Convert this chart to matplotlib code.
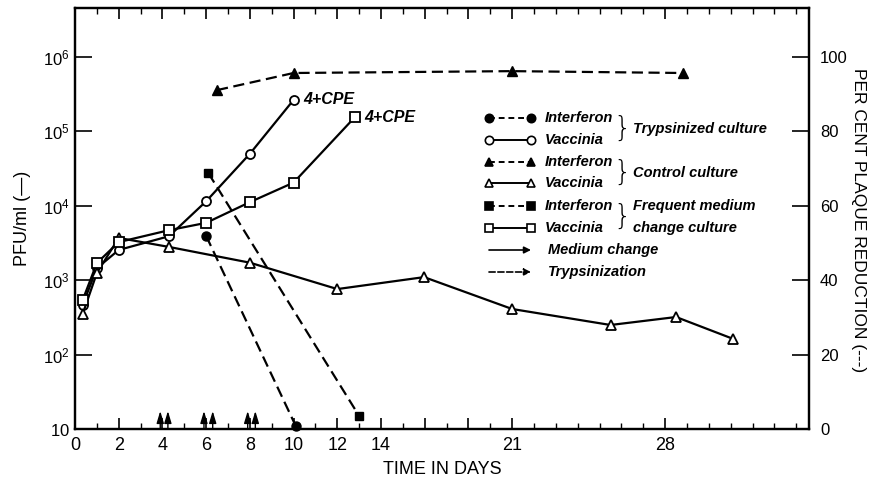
import numpy as np
import matplotlib
matplotlib.use('Agg')
import matplotlib.pyplot as plt
from matplotlib.ticker import FixedLocator, NullLocator, FixedFormatter

# ---------------- data ----------------
tryp_vac_days = [0.35, 1.0, 2.0, 4.3, 6.0, 8.0, 10.0]
tryp_vac_pfu = [465, 1450, 2550, 3900, 11500, 50000, 265000]

ctrl_vac_days = [0.35, 1.0, 2.0, 4.3, 8.0, 12.0, 16.3, 21.0, 25.5, 28.5, 31.1]
ctrl_vac_pfu = [350, 1250, 3700, 2800, 1720, 760, 1100, 410, 250, 320, 163]

freq_vac_days = [0.35, 1.0, 2.0, 4.3, 6.0, 8.0, 10.0, 12.8]
freq_vac_pfu = [540, 1700, 3250, 4700, 5900, 11200, 20500, 155000]

tryp_ifn_days = [6.0, 10.1]
tryp_ifn_pct = [51.9, 0.8]

ctrl_ifn_days = [6.5, 10.0, 21.0, 28.8]
ctrl_ifn_pct = [91.1, 95.7, 96.2, 95.7]

freq_ifn_days = [6.1, 13.0]
freq_ifn_pct = [68.8, 3.5]

medium_change_days = [3.9, 5.9, 7.9]
trypsinization_days = [4.25, 6.3, 8.25]

x_tick_days = [0, 2, 4, 6, 8, 10, 12, 14, 21, 28]
x_tick_labels = ['0', '2', '4', '6', '8', '10', '12', '14', '21', '28']
y_left_ticks = [10, 1e2, 1e3, 1e4, 1e5, 1e6]
y_left_labels = [r'$\mathregular{10}$', r'$\mathregular{10^{2}}$', r'$\mathregular{10^{3}}$',
                 r'$\mathregular{10^{4}}$', r'$\mathregular{10^{5}}$', r'$\mathregular{10^{6}}$']
y_right_ticks = [0, 20, 40, 60, 80, 100]

# ---------------- style ----------------
plt.rcParams['font.family'] = ['Liberation Sans Narrow', 'Liberation Sans', 'DejaVu Sans']
plt.rcParams['mathtext.fontset'] = 'custom'
plt.rcParams['mathtext.rm'] = 'Liberation Sans'

# piecewise time axis of the original figure (after day 14 the spacing changes)
KD = np.array([0., 14., 21., 28.])
KP = np.array([0., 14., 20., 27.])


def fwd(d):
    d = np.asarray(d, dtype=float)
    p = np.interp(d, KD, KP)
    p = np.where(d > 28, 27 + (d - 28), p)
    p = np.where(d < 0, d, p)
    return p


def inv(p):
    p = np.asarray(p, dtype=float)
    d = np.interp(p, KP, KD)
    d = np.where(p > 27, 28 + (p - 27), d)
    d = np.where(p < 0, p, d)
    return d


W, H = 870, 491
fig = plt.figure(figsize=(W / 100, H / 100), dpi=100)
L, R, T, B = 75, 809, 8, 429
ax = fig.add_axes([L / W, 1 - B / H, (R - L) / W, (B - T) / H])
ax2 = ax.twinx()

ax.set_xscale('function', functions=(fwd, inv))
ax.set_yscale('log')
ax.set_xlim(0, float(inv(33.58)))
ax.set_ylim(10, 10 ** (1 + (B - T) / 74.4))
ax2.set_ylim(0, (B - T) / 3.72)

lw = 1.6
ms = 6.5
dash = (5, 2.5)

# vaccinia (left axis, solid)
ax.plot(tryp_vac_days, tryp_vac_pfu, '-', color='k', lw=lw, marker='o', ms=ms,
        mfc='white', mec='k', mew=1.3, zorder=3)
ax.plot(ctrl_vac_days, ctrl_vac_pfu, '-', color='k', lw=lw, marker='^', ms=ms + 0.5,
        mfc='white', mec='k', mew=1.3, zorder=3)
ax.plot(freq_vac_days, freq_vac_pfu, '-', color='k', lw=lw, marker='s', ms=ms,
        mfc='white', mec='k', mew=1.3, zorder=3)

# interferon (right axis, dashed)
ax2.plot(tryp_ifn_days, tryp_ifn_pct, color='k', lw=lw, dashes=dash, marker='o', ms=ms,
         mfc='k', mec='k', clip_on=False)
ax2.plot(ctrl_ifn_days, ctrl_ifn_pct, color='k', lw=lw, dashes=dash, marker='^', ms=ms,
         mfc='k', mec='k', clip_on=False)
ax2.plot(freq_ifn_days, freq_ifn_pct, color='k', lw=lw, dashes=dash, marker='s', ms=ms - 0.5,
         mfc='k', mec='k', clip_on=False)

# 4+CPE notes
note_kw = dict(textcoords='offset points', xytext=(7, 0), va='center', ha='left',
               fontsize=11.5, fontstyle='italic', fontweight='bold')
ax.annotate('4+CPE', xy=(tryp_vac_days[-1], tryp_vac_pfu[-1]), **note_kw)
ax.annotate('4+CPE', xy=(freq_vac_days[-1], freq_vac_pfu[-1]), **note_kw)

# medium change / trypsinization arrows on the time axis
arrow_top = 10 ** (1 + 18 / 74.4)
for d in medium_change_days + trypsinization_days:
    ax.annotate('', xy=(d, arrow_top), xytext=(d, 10),
                arrowprops=dict(arrowstyle='-|>,head_length=0.6,head_width=0.18', color='k',
                                lw=1.0, mutation_scale=12, shrinkA=0, shrinkB=0))

# ---------------- ticks ----------------
pos16_18 = list(inv([16, 18]))
ax.xaxis.set_major_locator(FixedLocator(x_tick_days + pos16_18))
ax.xaxis.set_major_formatter(FixedFormatter(x_tick_labels + ['', '']))
ax.xaxis.set_minor_locator(FixedLocator(list(inv(np.arange(1, 34)))))
ax.tick_params(axis='x', which='major', direction='in', length=8, width=1.2,
               top=True, labelsize=13, pad=6)
ax.tick_params(axis='x', which='minor', direction='in', length=4, width=1.0, top=True)

ax.yaxis.set_major_locator(FixedLocator(y_left_ticks))
ax.yaxis.set_major_formatter(FixedFormatter(y_left_labels))
ax.yaxis.set_minor_locator(NullLocator())
ax.tick_params(axis='y', which='major', direction='in', length=12, width=1.2,
               labelsize=12, pad=4)

ax2.yaxis.set_major_locator(FixedLocator(y_right_ticks))
ax2.yaxis.set_minor_locator(NullLocator())
ax2.tick_params(axis='y', which='major', direction='in', length=12, width=1.2,
                labelsize=12, pad=8)

for a in (ax, ax2):
    for s in a.spines.values():
        s.set_linewidth(1.6)

fig.text(0.5 * (L + R) / W, 1 - 470 / H, 'TIME IN DAYS', fontsize=13,
         ha='center', va='center')
fig.text(23 / W, 1 - 0.5 * (T + B) / H, 'PFU/ml (—)', fontsize=13, rotation=90,
         ha='center', va='center')
fig.text(859 / W, 1 - 220 / H, 'PER CENT PLAQUE REDUCTION (---)', fontsize=12.5,
         rotation=-90, ha='center', va='center')

# ---------------- legend (drawn by hand) ----------------


def fx(px):
    return (px - L) / (R - L)


def fy(py):
    return (B - py) / (B - T)


leg_rows = [
    ('Interferon', 'o', 'k', True),
    ('Vaccinia', 'o', 'white', False),
    ('Interferon', '^', 'k', True),
    ('Vaccinia', '^', 'white', False),
    ('Interferon', 's', 'k', True),
    ('Vaccinia', 's', 'white', False),
]
row_y = [118, 140, 162, 183, 206, 228]
hx1, hx2 = 489, 531
txt_kw = dict(fontsize=10.5, fontstyle='italic', fontweight='bold', va='center', ha='left',
              transform=ax.transAxes)
for (lab, mk, fc, dashed), py in zip(leg_rows, row_y):
    kw = dict(color='k', lw=1.4, marker=mk, ms=ms - 0.5, mfc=fc, mec='k', mew=1.2,
              transform=ax.transAxes, clip_on=False)
    if dashed:
        kw['dashes'] = (3, 2)
    ax.plot([fx(hx1), fx(hx2)], [fy(py), fy(py)], **kw)
    ax.text(fx(545), fy(py), lab, **txt_kw)

for py_top, py_bot in [(118, 140), (162, 183), (206, 228)]:
    ax.text(fx(622), fy((py_top + py_bot) / 2), '}', fontsize=20, va='center', ha='center',
            transform=ax.transAxes, family='DejaVu Sans', fontweight='light')

ax.text(fx(633), fy(129), 'Trypsinized culture', **txt_kw)
ax.text(fx(633), fy(173), 'Control culture', **txt_kw)
ax.text(fx(633), fy(206), 'Frequent medium', **txt_kw)
ax.text(fx(633), fy(228), 'change culture', **txt_kw)

for py, lab, ls in [(250, 'Medium change', '-'), (272, 'Trypsinization', '--')]:
    ax.annotate('', xy=(fx(hx2), fy(py)), xytext=(fx(hx1), fy(py)),
                xycoords='axes fraction', textcoords='axes fraction',
                arrowprops=dict(arrowstyle='-|>', color='k', lw=1.2, ls=ls,
                                mutation_scale=10, shrinkA=0, shrinkB=0))
    ax.text(fx(548), fy(py), lab, **txt_kw)

fig.savefig('out.png', dpi=100)
